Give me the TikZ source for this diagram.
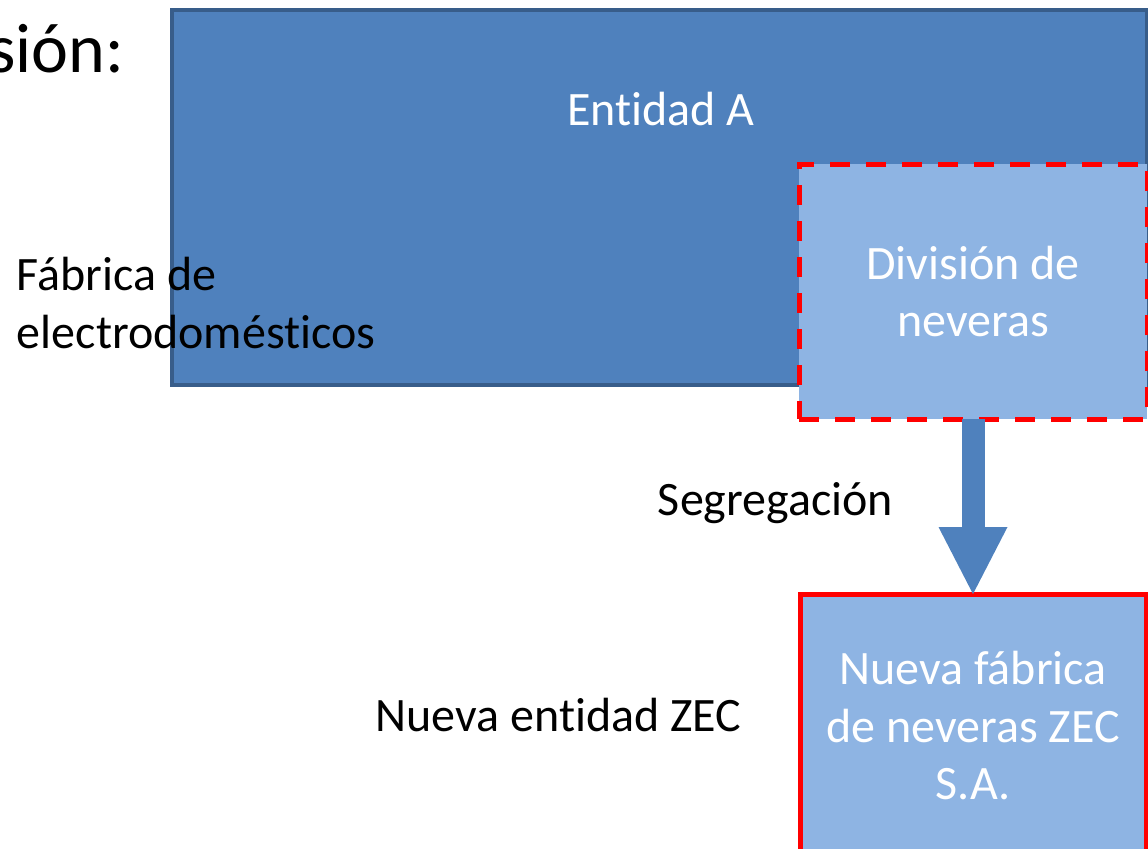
\documentclass[tikz,border=0pt]{standalone}
\usepackage{fontspec}
\setmainfont{Carlito}[Ligatures=NoCommon]
\usepackage{xcolor}
\usetikzlibrary{
    arrows.meta,
    positioning
}
\definecolor{entblue}{HTML}{4F81BD}
\definecolor{entedge}{HTML}{385D8A}
\definecolor{divblue}{HTML}{8EB4E3}
\definecolor{zecred}{HTML}{FF0000}
\newcommand{\txt}{\fontsize{24}{28.75}\selectfont}

\begin{document}
\begin{tikzpicture}[x=0.5pt, y=-0.5pt,
    box/.style={rectangle, inner sep=0pt, outer sep=0pt, align=center, text=white, font=\txt},
    plain/.style={inner sep=0pt, outer sep=0pt, text=black, font=\txt},
    segarrow/.style={draw=entblue, line width=11.5pt,
        -{Triangle[width=34.5pt, length=33.5pt, line width=0pt]}}
]
                        \useasboundingbox (0, 0) rectangle (1148, 848);
                        \clip (0, 0) rectangle (1148, 848);

                        \node[box, fill=entblue, draw=entedge, line width=2pt,
                            minimum width=487.5pt, minimum height=187.5pt] (ent) at (659.5, 197.5) {};
                        \node[box, fill=divblue, draw=zecred, line width=2.5pt, dash pattern=on 10pt off 8pt,
                            minimum width=174pt, minimum height=127.5pt] (div) at (973, 291.5) {Divisi\'on de\\neveras};
                        \node[box, fill=divblue, draw=zecred, line width=2.5pt,
                            minimum width=173pt, minimum height=132pt] (zec) at (973, 726) {Nueva f\'abrica\\de neveras ZEC\\S.A.};

                        \node[box, anchor=base] (entname) at (661, 125) {Entidad A};
                        \node[plain, anchor=base east, font=\fontsize{35}{40}\selectfont] (title) at (124, 72) {si\'on:};
                        \node[plain, anchor=west, align=left] (fab) at (17, 303) {F\'abrica de\\electrodom\'esticos};
                        \node[plain, anchor=base] (seg) at (775.5, 515) {Segregaci\'on};
                        \node[plain, anchor=base] (nueva) at (558.5, 731) {Nueva entidad ZEC};

                        \draw[segarrow] (div.south) -- (zec.north);
                    \end{tikzpicture}
\end{document}
